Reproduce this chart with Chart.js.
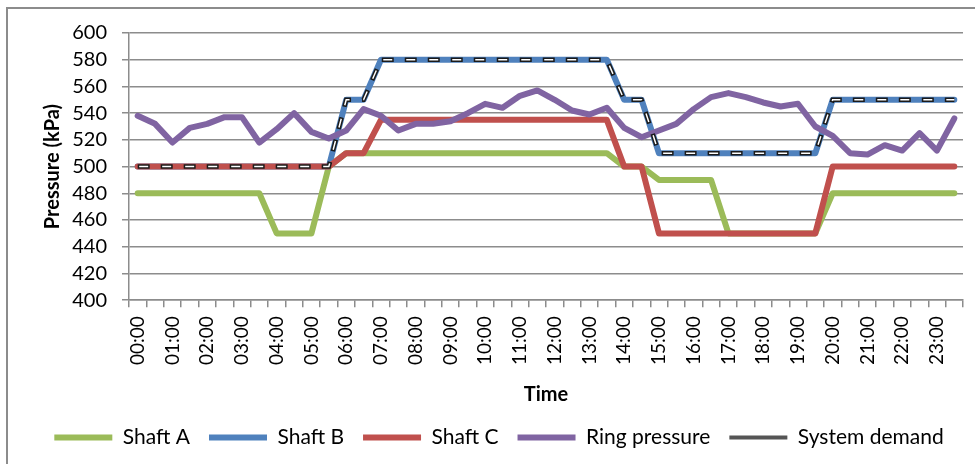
<!DOCTYPE html>
<html>
<head>
<meta charset="utf-8">
<script src="https://cdn.jsdelivr.net/npm/chart.js@4.4.1/dist/chart.umd.min.js"></script>
<style>
	html, body { margin: 0; padding: 0; background: #fff; }
	.wrap { position: relative; width: 975px; height: 464px; overflow: hidden; }
	.frame { position: absolute; left: 6px; top: 7px; width: 1000px; height: 1000px; border-left: 2px solid #8c8c8c; border-top: 2px solid #8c8c8c; pointer-events: none; }
</style>
</head>
<body>
<div class="wrap">
	<canvas id="pressure-chart" width="975" height="464"></canvas>
	<div class="frame"></div>
</div>
<script>
const times = ['00:00', '00:30', '01:00', '01:30', '02:00', '02:30', '03:00', '03:30', '04:00', '04:30', '05:00', '05:30',
	'06:00', '06:30', '07:00', '07:30', '08:00', '08:30', '09:00', '09:30', '10:00', '10:30', '11:00', '11:30',
	'12:00', '12:30', '13:00', '13:30', '14:00', '14:30', '15:00', '15:30', '16:00', '16:30', '17:00', '17:30',
	'18:00', '18:30', '19:00', '19:30', '20:00', '20:30', '21:00', '21:30', '22:00', '22:30', '23:00', '23:30'];

const shaftA = [480, 480, 480, 480, 480, 480, 480, 480, 450, 450, 450, 500,
	510, 510, 510, 510, 510, 510, 510, 510, 510, 510, 510, 510,
	510, 510, 510, 510, 500, 500, 490, 490, 490, 490, 450, 450,
	450, 450, 450, 450, 480, 480, 480, 480, 480, 480, 480, 480];

const shaftB = [500, 500, 500, 500, 500, 500, 500, 500, 500, 500, 500, 500,
	550, 550, 580, 580, 580, 580, 580, 580, 580, 580, 580, 580,
	580, 580, 580, 580, 550, 550, 510, 510, 510, 510, 510, 510,
	510, 510, 510, 510, 550, 550, 550, 550, 550, 550, 550, 550];

const shaftC = [500, 500, 500, 500, 500, 500, 500, 500, 500, 500, 500, 500,
	510, 510, 535, 535, 535, 535, 535, 535, 535, 535, 535, 535,
	535, 535, 535, 535, 500, 500, 450, 450, 450, 450, 450, 450,
	450, 450, 450, 450, 500, 500, 500, 500, 500, 500, 500, 500];

const ringPressure = [538, 532, 518, 529, 532, 537, 537, 518, 528, 540, 526, 521,
	527, 543, 538, 527, 532, 532, 534, 540, 547, 544, 553, 557,
	550, 542, 539, 544, 529, 522, 527, 532, 543, 552, 555, 552,
	548, 545, 547, 530, 523, 510, 509, 516, 512, 525, 512, 536];

const systemDemand = [500, 500, 500, 500, 500, 500, 500, 500, 500, 500, 500, 500,
	550, 550, 580, 580, 580, 580, 580, 580, 580, 580, 580, 580,
	580, 580, 580, 580, 550, 550, 510, 510, 510, 510, 510, 510,
	510, 510, 510, 510, 550, 550, 550, 550, 550, 550, 550, 550];

const yTicks = { min: 400, max: 600, step: 20 };

const font = 'Lato';
const gridColor = '#8c8c8c';

const line = (label, data, color, order) => ({
	label,
	data,
	borderColor: color,
	backgroundColor: color,
	borderWidth: 6,
	borderCapStyle: 'round',
	borderJoinStyle: 'round',
	pointRadius: 0,
	tension: 0,
	order
});

new Chart(document.getElementById('pressure-chart'), {
	type: 'line',
	data: {
		labels: times,
		datasets: [
			line('Shaft A', shaftA, '#9bbb59', 6),
			line('Shaft B', shaftB, '#4f81bd', 5),
			line('Shaft C', shaftC, '#c0504d', 4),
			line('Ring pressure', ringPressure, '#8064a2', 3),
			{
				label: 'System demand',
				data: systemDemand,
				borderColor: '#1a1a1a',
				backgroundColor: '#1a1a1a',
				borderWidth: 4.5,
				borderDash: [12, 11],
				borderCapStyle: 'butt',
				pointRadius: 0,
				order: 2
			},
			// white centre of the outlined dashes
			{
				label: '',
				data: systemDemand,
				borderColor: '#ffffff',
				borderWidth: 1.5,
				borderDash: [9, 14],
				borderDashOffset: -1.5,
				borderCapStyle: 'butt',
				pointRadius: 0,
				order: 1
			}
		]
	},
	options: {
		responsive: false,
		animation: false,
		layout: {
			padding: { left: 35, right: 12, top: 33, bottom: 6 }
		},
		plugins: {
			tooltip: { enabled: false },
			legend: {
				position: 'bottom',
				labels: {
					usePointStyle: true,
					pointStyle: 'line',
					pointStyleWidth: 58,
					padding: 19,
					color: '#000',
					font: { family: font, size: 21 },
					generateLabels: chart => Chart.defaults.plugins.legend.labels.generateLabels(chart)
						.map(item => (item.text === 'System demand' ? { ...item, strokeStyle: '#555', lineWidth: 4 } : item)),
					filter: item => item.text !== '',
					sort: (a, b) => a.datasetIndex - b.datasetIndex
				}
			}
		},
		scales: {
			x: {
				offset: true,
				afterFit: scale => {
					scale.paddingLeft = 0;
					scale.paddingRight = 0;
				},
				grid: {
					display: true,
					drawOnChartArea: false,
					drawTicks: true,
					tickLength: 7,
					offset: true,
					color: gridColor,
					lineWidth: 1.5
				},
				border: { display: true, color: gridColor, width: 1.5 },
				ticks: {
					autoSkip: false,
					maxRotation: 90,
					minRotation: 90,
					padding: 9,
					color: '#000',
					font: { family: font, size: 19 },
					callback: (v, i) => (i % 2 ? '' : times[i])
				},
				title: {
					display: true,
					text: 'Time',
					color: '#000',
					font: { family: font, size: 20, weight: 'bold' },
					padding: { top: 9, bottom: 1 }
				}
			},
			y: {
				min: yTicks.min,
				max: yTicks.max,
				afterFit: scale => {
					scale.width = 94;
					scale.paddingTop = 0;
					scale.paddingBottom = 0;
				},
				grid: {
					color: gridColor,
					lineWidth: 1.5,
					tickLength: 7
				},
				border: { display: true, color: gridColor, width: 1.5 },
				ticks: {
					stepSize: yTicks.step,
					autoSkip: false,
					padding: 15,
					color: '#000',
					font: { family: font, size: 20 }
				},
				title: {
					display: true,
					text: 'Pressure (kPa)',
					color: '#000',
					font: { family: font, size: 20, weight: 'bold' },
					padding: { top: 6, bottom: 7 }
				}
			}
		}
	}
});
</script>
</body>
</html>
